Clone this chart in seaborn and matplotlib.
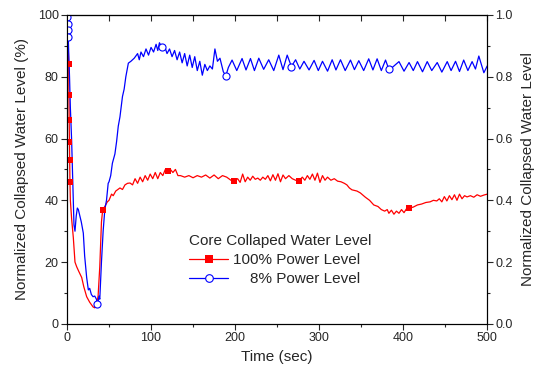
import matplotlib
matplotlib.use("Agg")
import matplotlib.pyplot as plt
import seaborn as sns
from matplotlib.lines import Line2D
from matplotlib.ticker import MultipleLocator, FormatStrFormatter

# 100% power level (red) - time (sec) and level (%)
t_100 = [0, 0.8, 1.5, 2.0, 2.3, 2.6, 2.9, 3.2, 3.5, 4.0, 5.5, 7.5, 9.5, 11.5, 14, 17.5, 20, 23.4,
         27, 31, 33, 35, 37, 39, 41, 42.5, 45, 48, 50, 53, 55, 58, 60, 63, 66, 69, 72, 75, 78, 81,
         84, 87, 90, 93, 96, 99, 102, 105, 108, 111, 114, 117, 120, 123, 126, 129, 132, 135, 140,
         145, 150, 155, 160, 165, 170, 175, 180, 185, 190, 195, 199, 203, 206, 209, 212, 215, 218,
         221, 224, 227, 230, 233, 236, 239, 242, 245, 248, 251, 254, 257, 260, 264, 268, 272, 276,
         280, 283, 286, 289, 292, 295, 298, 301, 304, 307, 310, 314, 318, 322, 326, 330, 333, 336,
         339, 345, 349, 355, 360, 365, 370, 374, 378, 381, 383, 386, 389, 392, 395, 398, 401, 404,
         407, 412, 417, 422, 427, 432, 436, 440, 443, 446, 449, 452, 455, 458, 461, 464, 467, 470,
         473, 476, 480, 484, 488, 492, 496, 500]
lvl_100 = [99, 95, 90, 84, 74, 66, 59, 53, 46, 40, 34, 28, 20, 18.5, 17, 15, 12, 8.8,
           7, 5.5, 5.2, 6, 9, 18.5, 33, 37, 38, 39.5, 40, 42, 41.5, 43, 43.4, 44, 43.5, 45, 45.5,
           45.6, 45, 47, 45.5, 47.5, 46, 48, 46.5, 48.5, 47, 49, 47, 49, 48, 50, 49.5, 50, 49, 50,
           48, 48, 47.5, 48, 47.3, 48, 47.5, 48.2, 47.2, 48.2, 47, 48, 47.5, 46.5, 46.3, 47, 45.8,
           48.5, 46, 47.5, 46.5, 47.8, 46.8, 47.2, 46.5, 47.5, 46.8, 48, 46.3, 48.3, 46.5, 48.6,
           46, 48.2, 47, 48, 47, 46.5, 46.3, 47.5, 46.5, 48, 46.8, 48.5, 46.5, 48.8, 45.8, 48,
           46.5, 47.5, 46.5, 47, 46.2, 46, 45.5, 45, 44, 43.4, 43, 42.4, 41, 40, 38.5, 38, 37, 36.5,
           37, 35.8, 36.8, 35.5, 36.5, 35.8, 37, 36, 37.3, 37.5, 37.8, 38.5, 38.8, 39.3, 39.5, 40,
           39.8, 40.5, 39.5, 41.2, 39.8, 41.5, 40.2, 41.8, 40, 42, 40.5, 41.5, 41.1, 41.5, 41,
           41.8, 41.3, 41.7, 42]

# 8% power level (blue)
t_8 = [0, 0.5, 1.0, 1.5, 2, 3, 4, 5.5, 7, 8.3, 9.5, 11, 12.3, 13.5, 15.5, 17, 19.4, 21, 23.4,
       25.4, 27, 29, 31, 33, 35, 36, 37, 38, 39, 41, 43, 45, 47, 49, 50, 52, 54, 57, 59, 61, 63,
       66, 68, 70, 73, 76, 80, 84, 86, 88, 91, 94, 97, 100, 103, 106, 108, 110, 113, 116, 119,
       122, 125, 128, 131, 134, 137, 140, 143, 146, 149, 152, 155, 158, 161, 164, 167, 170, 173,
       176, 179, 182, 186, 189, 192, 196.4, 202, 208.3, 213, 218.3, 223, 228.2, 234, 240, 246,
       252, 257, 262, 267, 272, 277, 282, 288, 294, 299, 304, 310, 315.5, 320, 325.4, 331, 337.3,
       342, 347.2, 353, 359, 364, 369, 374, 379, 383, 387, 395, 401, 407, 412, 417, 423, 428.6,
       434, 440.5, 446, 452.4, 457, 462.3, 467, 472, 477, 482, 486, 490, 496, 500]
lvl_8 = [100, 98, 95, 93, 88, 80, 70, 59.5, 45, 32, 30, 35, 37.5, 37, 34.7, 33, 29.4, 22, 15,
         11, 11.5, 9.5, 8.8, 9, 8, 6.5, 7, 9, 8, 20, 30, 37, 40, 45.5, 46, 48, 52, 55, 59, 64, 67,
         73.6, 76, 80, 84.4, 85, 86, 87.5, 85.5, 88, 86.5, 89, 87, 89.5, 88, 90.5, 88.5, 91, 89.5,
         90, 87.5, 89, 86.5, 88.5, 85.5, 88, 84.5, 87.5, 83.5, 87, 83, 86.5, 82, 85, 80.5, 84, 82,
         83.5, 82.5, 89, 85, 86, 81.6, 80.3, 83, 85.4, 82, 85.9, 82.2, 85.9, 82, 86, 82.4, 85.5,
         82, 87, 82.3, 87, 83.3, 85.5, 82.5, 85, 82.2, 85.3, 82, 85, 81.8, 85.5, 82.2, 85.5, 82,
         85.4, 82.3, 85.2, 82, 85.8, 82.2, 85.8, 82, 85.4, 82.4, 83, 84.9, 81.8, 84.6, 82, 84.9,
         81.6, 84.9, 82, 84.6, 81.5, 84.9, 82, 85, 81.7, 85.4, 82, 84.9, 82.5, 86.7, 81.3, 83.5]

# marker positions
mk_t_100 = [2.0, 2.3, 2.6, 2.9, 3.2, 3.5, 42.5, 120, 199, 276, 407]
mk_v_100 = [84, 74, 66, 59, 53, 46, 37, 49.5, 46.3, 46.3, 37.5]
mk_t_8 = [0.5, 1.0, 1.5, 1.0, 36, 113, 189, 267, 383]
mk_v_8 = [99.5, 97, 95, 93, 6.5, 89.5, 80.3, 83.3, 82.4]

sns.set_style("ticks")
plt.rcParams['font.family'] = ['Liberation Sans', 'DejaVu Sans']

fig = plt.figure(figsize=(5.36, 3.74), dpi=100)
ax = fig.add_axes([0.125, 0.134, 0.784, 0.826])

red = "#ff0000"
blue = "#0000ff"

sns.lineplot(x=t_100, y=lvl_100, ax=ax, color=red, lw=0.9, estimator=None, sort=False)
sns.lineplot(x=t_8, y=lvl_8, ax=ax, color=blue, lw=0.9, estimator=None, sort=False)
sns.scatterplot(x=mk_t_100, y=mk_v_100, ax=ax, marker="s", color=red, s=24, linewidth=0, zorder=5)
sns.scatterplot(x=mk_t_8, y=mk_v_8, ax=ax, marker="o", facecolor="white", edgecolor=blue,
                s=26, linewidth=0.8, zorder=5)

ax.set_xlim(0, 500)
ax.set_ylim(0, 100)
ax.xaxis.set_major_locator(MultipleLocator(100))
ax.xaxis.set_minor_locator(MultipleLocator(50))
ax.yaxis.set_major_locator(MultipleLocator(20))
ax.yaxis.set_minor_locator(MultipleLocator(10))
ax.tick_params(which="major", direction="out", length=4, width=0.8, labelsize=9, pad=2)
ax.tick_params(which="minor", direction="out", length=2.5, width=0.8)
ax.set_xlabel("Time (sec)", fontsize=11, labelpad=4)
ax.set_ylabel("Normalized Collapsed Water Level (%)", fontsize=11, labelpad=6)

top = ax.secondary_xaxis("top")
top.xaxis.set_major_locator(MultipleLocator(100))
top.xaxis.set_minor_locator(MultipleLocator(50))
top.tick_params(which="both", direction="in", length=4, width=0.8, labeltop=False)

ax2 = ax.twinx()
ax2.set_ylim(0, 1.0)
ax2.yaxis.set_major_locator(MultipleLocator(0.2))
ax2.yaxis.set_minor_locator(MultipleLocator(0.1))
ax2.yaxis.set_major_formatter(FormatStrFormatter("%.1f"))
ax2.tick_params(which="major", direction="out", length=4, width=0.8, labelsize=9, pad=2)
ax2.tick_params(which="minor", direction="out", length=2.5, width=0.8)
ax2.set_ylabel("Normalized Collapsed Water Level", fontsize=11, labelpad=6)

for a in (ax, ax2):
    for sp in a.spines.values():
        sp.set_linewidth(0.8)
        sp.set_color("black")

handles = [
    Line2D([], [], color=red, lw=0.9, marker="s", markersize=5.5, markeredgewidth=0),
    Line2D([], [], color=blue, lw=0.9, marker="o", markersize=5.5, markerfacecolor="white",
           markeredgecolor=blue, markeredgewidth=0.8),
]
ax2.legend(handles, ["100% Power Level", "    8% Power Level"], title="Core Collaped Water Level",
           frameon=False, loc="upper left", bbox_to_anchor=(0.352, 0.374), bbox_transform=fig.transFigure,
           fontsize=11, title_fontsize=11, handlelength=2.6, handletextpad=0.3, labelspacing=0.32,
           borderpad=0, borderaxespad=0, alignment="left")

fig.savefig("out.png", dpi=100)
